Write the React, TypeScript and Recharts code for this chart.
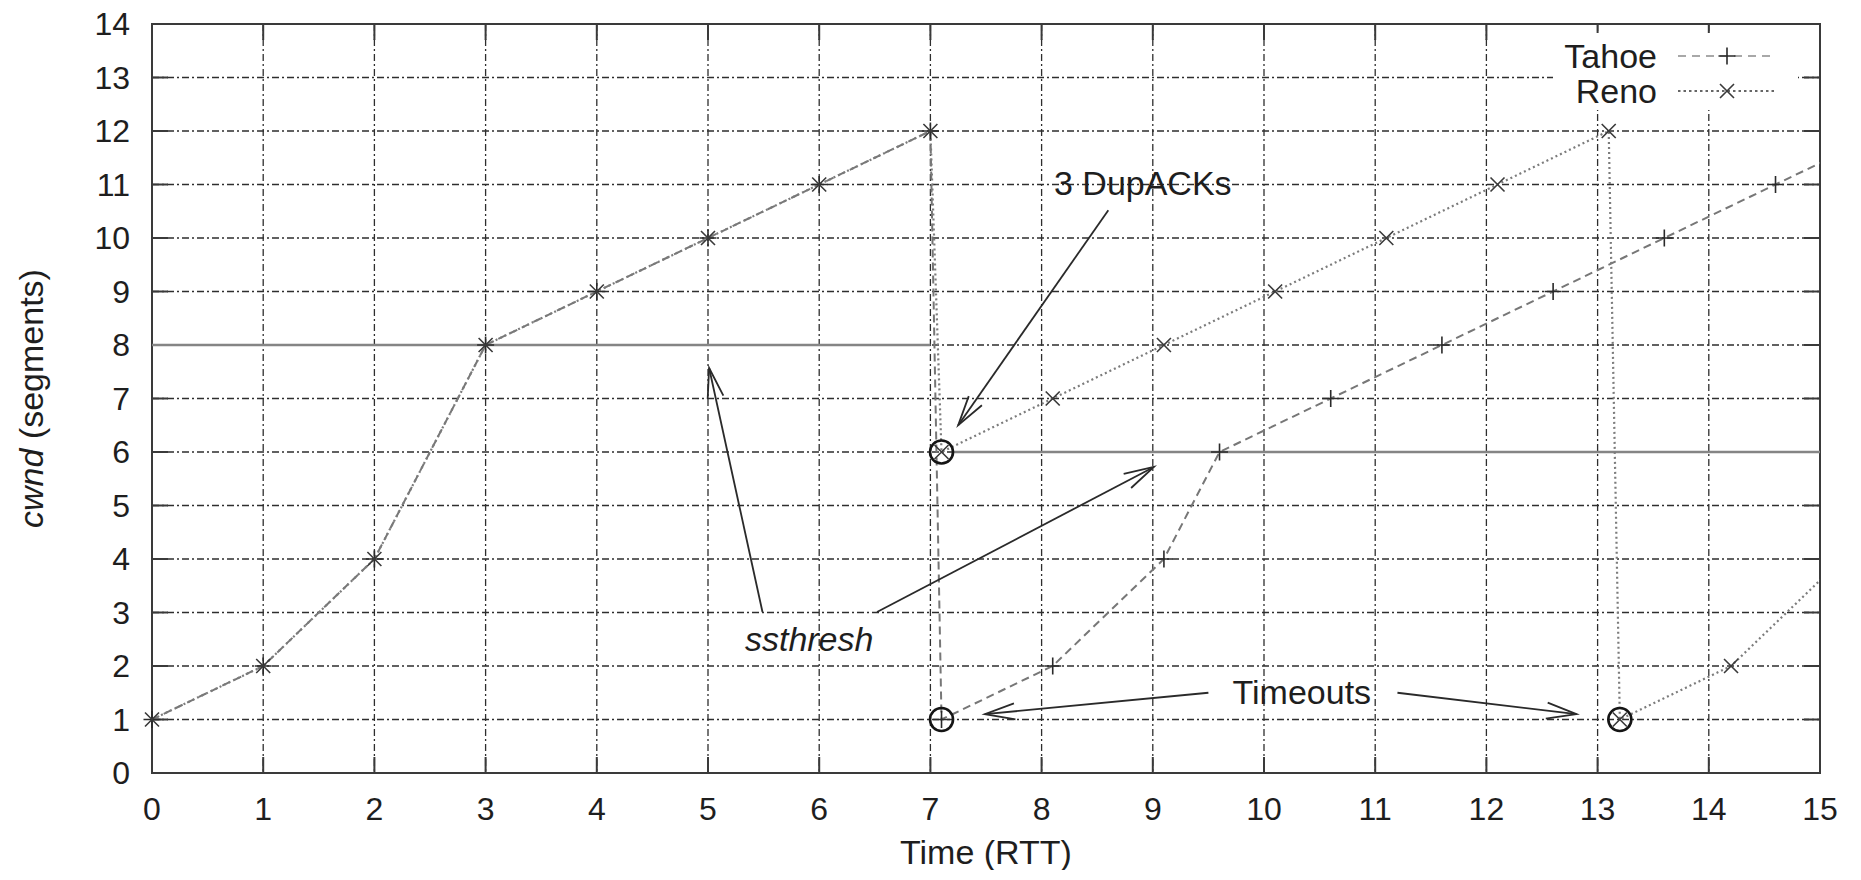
import React from 'react';
import {
  ComposedChart,
  Line,
  XAxis,
  YAxis,
  CartesianGrid,
  ReferenceLine,
  ReferenceDot,
  ReferenceArea,
  Legend,
} from 'recharts';

// ---------------- data ----------------
const xTicks = [0, 1, 2, 3, 4, 5, 6, 7, 8, 9, 10, 11, 12, 13, 14, 15];
const yTicks = [0, 1, 2, 3, 4, 5, 6, 7, 8, 9, 10, 11, 12, 13, 14];

// slow start + congestion avoidance shared by both variants
const sharedTime = [0, 1, 2, 3, 4, 5, 6, 7];
const sharedCwnd = [1, 2, 4, 8, 9, 10, 11, 12];

// Tahoe after the loss at t=7
const tahoeTime = [7.1, 8.1, 9.1, 9.6, 10.6, 11.6, 12.6, 13.6, 14.6, 15.6];
const tahoeCwnd = [1, 2, 4, 6, 7, 8, 9, 10, 11, 12];

// Reno after the loss at t=7 (fast recovery), then timeout at 13.2
const renoTime = [7.1, 8.1, 9.1, 10.1, 11.1, 12.1, 13.1, 13.2, 14.2, 15.2];
const renoCwnd = [6, 7, 8, 9, 10, 11, 12, 1, 2, 4];

// circled events
const eventTime = [7.1, 7.1, 13.2];
const eventCwnd = [6, 1, 1];

// ssthresh levels
const ssthreshTime1 = [0, 7];
const ssthreshVal1 = [8, 8];
const ssthreshTime2 = [7.2, 15];
const ssthreshVal2 = [6, 6];

const seriesNames = ['Tahoe', 'Reno'];

// annotations (data coordinates)
const noteTexts = ['3 DupACKs', 'ssthresh', 'Timeouts'];
const noteItalic = [false, true, false];
const noteTime = [8.91, 5.91, 10.34];
const noteCwnd = [11.02, 2.51, 1.51];

const arrowFromTime = [8.6, 5.49, 6.52, 9.5, 11.2];
const arrowFromCwnd = [10.52, 3.01, 3.01, 1.5, 1.5];
const arrowToTime = [7.25, 5.01, 9.01, 7.49, 12.81];
const arrowToCwnd = [6.5, 7.57, 5.72, 1.1, 1.1];

// ---------------- derived tables ----------------
const zip = (xs: number[], ys: number[]) => xs.map((x, i) => ({ x, y: ys[i] }));
const sharedData = zip(sharedTime, sharedCwnd);
const tahoeData = [...sharedData, ...zip(tahoeTime, tahoeCwnd)];
const renoData = [...sharedData, ...zip(renoTime, renoCwnd)];
const tahoeMarks = tahoeData.filter((p) => p.x <= 15);
const renoMarks = renoData.filter((p) => p.x <= 15);
const eventData = zip(eventTime, eventCwnd);
const ss1 = zip(ssthreshTime1, ssthreshVal1);
const ss2 = zip(ssthreshTime2, ssthreshVal2);

// ---------------- styles ----------------
const FONT = '"Liberation Sans", Arial, Helvetica, sans-serif';
const TEXT = '#1e1e1e';
const TICK = 16;

const PlusMark = (p: any) => {
  const { cx, cy, index } = p;
  if (cx == null || cy == null) return <g key={`p-${index}`} />;
  const s = 8.5;
  return (
    <path
      key={`p-${index}`}
      d={`M${cx - s},${cy}H${cx + s}M${cx},${cy - s}V${cy + s}`}
      stroke="#2a2a2a"
      strokeWidth={1.6}
      fill="none"
    />
  );
};

const CrossMark = (p: any) => {
  const { cx, cy, index } = p;
  if (cx == null || cy == null) return <g key={`c-${index}`} />;
  const s = 7;
  return (
    <path
      key={`c-${index}`}
      d={`M${cx - s},${cy - s}L${cx + s},${cy + s}M${cx - s},${cy + s}L${cx + s},${cy - s}`}
      stroke="#3a3a3a"
      strokeWidth={1.6}
      fill="none"
    />
  );
};

const RingMark = (p: any) => {
  const { cx, cy, index } = p;
  if (cx == null || cy == null) return <g key={`r-${index}`} />;
  return <circle key={`r-${index}`} cx={cx} cy={cy} r={11.5} fill="none" stroke="#151515" strokeWidth={2.6} />;
};

const VTickShape = (p: any) => {
  const top = Math.min(p.y1, p.y2);
  const bot = Math.max(p.y1, p.y2);
  return (
    <g>
      <line x1={p.x1} x2={p.x1} y1={top} y2={top + TICK} stroke="#3a3a3a" strokeWidth={2} />
      <line x1={p.x1} x2={p.x1} y1={bot - TICK} y2={bot} stroke="#3a3a3a" strokeWidth={2} />
    </g>
  );
};

const HTickShape = (p: any) => {
  const l = Math.min(p.x1, p.x2);
  const r = Math.max(p.x1, p.x2);
  return (
    <g>
      <line x1={l} x2={l + TICK} y1={p.y1} y2={p.y1} stroke="#3a3a3a" strokeWidth={2} />
      <line x1={r - TICK} x2={r} y1={p.y1} y2={p.y1} stroke="#3a3a3a" strokeWidth={2} />
    </g>
  );
};

const ArrowShape = (p: any) => {
  const { x1, y1, x2, y2 } = p;
  const ang = Math.atan2(y2 - y1, x2 - x1);
  const L = 31;
  const a = (15 * Math.PI) / 180;
  const bx1 = x2 - L * Math.cos(ang - a);
  const by1 = y2 - L * Math.sin(ang - a);
  const bx2 = x2 - L * Math.cos(ang + a);
  const by2 = y2 - L * Math.sin(ang + a);
  return (
    <g>
      <line x1={x1} y1={y1} x2={x2} y2={y2} stroke="#2a2a2a" strokeWidth={1.8} />
      <polyline points={`${bx1},${by1} ${x2},${y2} ${bx2},${by2}`} fill="none" stroke="#2a2a2a" strokeWidth={1.8} />
    </g>
  );
};

const makeNote = (label: string, italic: boolean) => (p: any) => (
  <text
    x={p.cx}
    y={p.cy}
    dy="0.35em"
    textAnchor="middle"
    fontSize={34}
    fontStyle={italic ? 'italic' : 'normal'}
    fill={TEXT}
    fontFamily={FONT}
  >
    {label}
  </text>
);

const YTitle = (props: any) => {
  const vb = props && props.viewBox && props.viewBox.height ? props.viewBox : { x: 52, y: 24, width: 100, height: 749 };
  const cx = vb.x - 9;
  const cy = vb.y + vb.height / 2;
  return (
    <text
      x={cx}
      y={cy}
      transform={`rotate(-90 ${cx} ${cy})`}
      textAnchor="middle"
      fontSize={34}
      fill={TEXT}
      fontFamily={FONT}
    >
      <tspan fontStyle="italic">cwnd</tspan>
      <tspan> (segments)</tspan>
    </text>
  );
};

const XTitle = (props: any) => {
  const vb = props && props.viewBox && props.viewBox.width ? props.viewBox : { x: 152, y: 773, width: 1668, height: 90 };
  return (
    <text x={vb.x + vb.width / 2} y={vb.y + 91} textAnchor="middle" fontSize={34} fill={TEXT} fontFamily={FONT}>
      Time (RTT)
    </text>
  );
};

const LegendBox = () => {
  const rows = [
    { name: seriesNames[0], y: 23, dash: '8 6', color: '#a8a8a8', mark: 'plus' },
    { name: seriesNames[1], y: 58, dash: '2.5 3', color: '#666', mark: 'cross' },
  ];
  return (
    <svg width={245} height={77} style={{ display: 'block', background: '#fff' }}>
      {rows.map((r) => (
        <g key={r.name}>
          <text x={104} y={r.y} dy="0.36em" textAnchor="end" fontSize={34} fill={TEXT} fontFamily={FONT}>
            {r.name}
          </text>
          <line x1={125} x2={222} y1={r.y} y2={r.y} stroke={r.color} strokeWidth={2.2} strokeDasharray={r.dash} />
          {r.mark === 'plus' ? <PlusMark cx={174} cy={r.y} index={0} /> : <CrossMark cx={174} cy={r.y} index={1} />}
        </g>
      ))}
    </svg>
  );
};

export default function App() {
  return (
    <div style={{ width: 1861, height: 870, margin: '-8px 0 0 -8px', background: '#fff', overflow: 'hidden' }}>
      <ComposedChart width={1861} height={870} margin={{ top: 24, right: 41, bottom: 7, left: 52 }}>
        <CartesianGrid stroke="#2e2e2e" strokeWidth={1.3} strokeDasharray="7 3 2 3" />
        <XAxis
          type="number"
          dataKey="x"
          domain={[0, 15]}
          ticks={xTicks}
          interval={0}
          allowDataOverflow
          axisLine={false}
          tickLine={false}
          tickSize={0}
          tickMargin={24}
          height={90}
          tick={{ fontSize: 32, fill: TEXT, fontFamily: FONT }}
          label={{ content: XTitle }}
        />
        <XAxis xAxisId="m" type="number" dataKey="x" domain={[0, 15]} hide />
        <YAxis
          type="number"
          dataKey="y"
          domain={[0, 14]}
          ticks={yTicks}
          interval={0}
          axisLine={false}
          tickLine={false}
          tickSize={0}
          tickMargin={22}
          width={100}
          tick={{ fontSize: 32, fill: TEXT, fontFamily: FONT }}
          label={{ content: YTitle }}
        />

        {xTicks.map((v) => (
          <ReferenceLine key={`vt-${v}`} x={v} shape={VTickShape} ifOverflow="visible" />
        ))}
        {yTicks.map((v) => (
          <ReferenceLine key={`ht-${v}`} y={v} shape={HTickShape} ifOverflow="visible" />
        ))}
        <ReferenceArea x1={0} x2={15} y1={0} y2={14} fill="none" fillOpacity={0} stroke="#3a3a3a" strokeWidth={2} ifOverflow="visible" />

        {/* ssthresh levels */}
        <Line data={ss1} dataKey="y" stroke="#858585" strokeWidth={2.4} dot={false} activeDot={false} isAnimationActive={false} legendType="none" name="ssthresh1" />
        <Line data={ss2} dataKey="y" stroke="#858585" strokeWidth={2.4} dot={false} activeDot={false} isAnimationActive={false} legendType="none" name="ssthresh2" />

        {/* series lines */}
        <Line data={tahoeData} dataKey="y" name="Tahoe" stroke="#777" strokeWidth={2} strokeDasharray="8 5" dot={false} activeDot={false} isAnimationActive={false} />
        <Line data={renoData} dataKey="y" name="Reno" stroke="#7c7c7c" strokeWidth={2.2} strokeDasharray="2 3" dot={false} activeDot={false} isAnimationActive={false} />

        {/* markers */}
        <Line xAxisId="m" data={tahoeMarks} dataKey="y" stroke="none" dot={PlusMark} activeDot={false} isAnimationActive={false} legendType="none" name="TahoeMarks" />
        <Line xAxisId="m" data={renoMarks} dataKey="y" stroke="none" dot={CrossMark} activeDot={false} isAnimationActive={false} legendType="none" name="RenoMarks" />
        <Line xAxisId="m" data={eventData} dataKey="y" stroke="none" dot={RingMark} activeDot={false} isAnimationActive={false} legendType="none" name="Events" />

        {/* arrows */}
        {arrowFromTime.map((x, i) => (
          <ReferenceLine
            key={`ar-${i}`}
            segment={[
              { x, y: arrowFromCwnd[i] },
              { x: arrowToTime[i], y: arrowToCwnd[i] },
            ]}
            shape={ArrowShape}
            ifOverflow="visible"
          />
        ))}

        {/* annotation texts */}
        {noteTexts.map((t, i) => (
          <ReferenceDot key={`nt-${i}`} x={noteTime[i]} y={noteCwnd[i]} r={0} shape={makeNote(t, noteItalic[i])} ifOverflow="visible" />
        ))}

        <Legend
          layout="horizontal"
          verticalAlign="middle"
          align="center"
          content={LegendBox}
          wrapperStyle={{ left: 1553, top: 33, width: 245, height: 77, margin: 0, padding: 0 }}
        />
      </ComposedChart>
    </div>
  );
}
